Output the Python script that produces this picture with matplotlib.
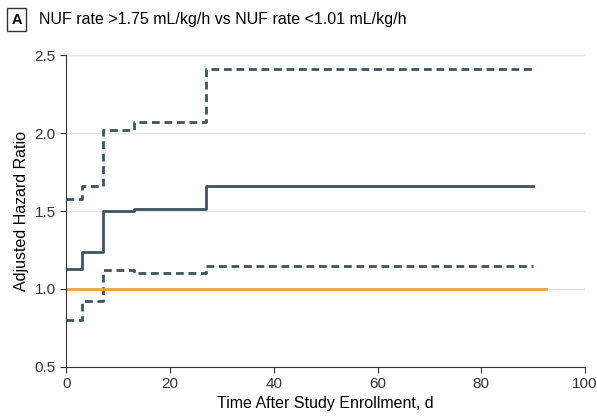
import matplotlib.pyplot as plt

# step change times (days) and hazard ratio values
times = [0, 3, 7, 13, 27, 90]
hr = [1.13, 1.24, 1.50, 1.51, 1.66, 1.66]
upper = [1.58, 1.66, 2.02, 2.07, 2.41, 2.41]
lower = [0.80, 0.92, 1.12, 1.10, 1.15, 1.15]
ref_x = [0, 92.5]
ref_y = [1.0, 1.0]

plt.rcParams['font.family'] = ['Liberation Sans', 'DejaVu Sans']
plt.rcParams['font.size'] = 11

dark = '#3b5560'
orange = '#f0a040'

fig = plt.figure(figsize=(5.97, 4.17), dpi=100)
ax = fig.add_axes([0.111, 0.12, 0.869, 0.748])

ax.step(times, upper, where='post', color=dark, lw=2, ls=(0, (2.8, 1.7)))
ax.step(times, lower, where='post', color=dark, lw=2, ls=(0, (2.8, 1.7)))
ax.step(times, hr, where='post', color=dark, lw=2)
ax.plot(ref_x, ref_y, color=orange, lw=2)

ax.set_xlim(0, 100)
ax.set_ylim(0.5, 2.5)
ax.set_xticks([0, 20, 40, 60, 80, 100])
ax.set_yticks([0.5, 1.0, 1.5, 2.0, 2.5])
ax.set_yticklabels(['0.5', '1.0', '1.5', '2.0', '2.5'])
ax.yaxis.grid(True, color='#e4e4e4', lw=1)
ax.set_axisbelow(True)
for s in ['top', 'right']:
    ax.spines[s].set_visible(False)
for s in ['left', 'bottom']:
    ax.spines[s].set_color('#333333')
ax.tick_params(colors='#333333', labelsize=11, length=4)
ax.set_xlabel('Time After Study Enrollment, d', fontsize=11.5, labelpad=3)
ax.set_ylabel('Adjusted Hazard Ratio', fontsize=11.5)

fig.text(0.028, 0.953, 'A', fontsize=10.5, fontweight='bold', va='center', ha='center',
         bbox=dict(boxstyle='square,pad=0.3', fc='white', ec='#333333', lw=1))
fig.text(0.066, 0.953, 'NUF rate >1.75 mL/kg/h vs NUF rate <1.01 mL/kg/h',
         fontsize=11.5, va='center', ha='left')

fig.savefig('out.png', dpi=100)
